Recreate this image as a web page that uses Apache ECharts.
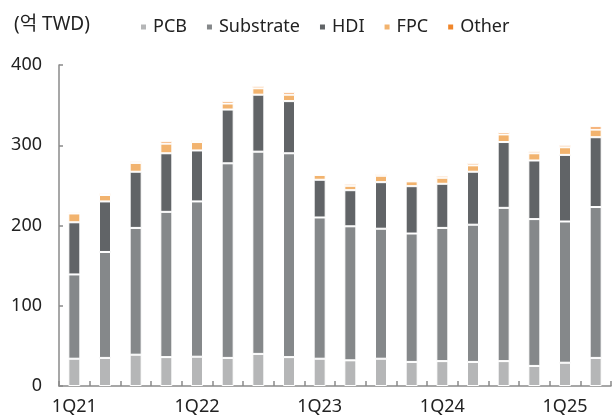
<!DOCTYPE html>
<html><head><meta charset="utf-8">
<script src="https://cdn.jsdelivr.net/npm/echarts@6/dist/echarts.min.js"></script>
<style>html,body{margin:0;padding:0;background:#fff}#c{width:616px;height:418px}</style>
</head><body><div id="c"></div>
<script>
const categories = ['1Q21','2Q21','3Q21','4Q21','1Q22','2Q22','3Q22','4Q22','1Q23','2Q23','3Q23','4Q23','1Q24','2Q24','3Q24','4Q24','1Q25','2Q25'];
const pcb       = [34, 35, 39, 36, 36.5, 35, 40, 36, 34, 32, 34, 30, 31, 30, 31, 25, 29, 35];
const substrate = [105, 132, 158, 181, 193.5, 242.5, 252, 254, 176, 167, 162, 160, 166, 171, 191, 183, 176, 188];
const hdi       = [65, 63, 70, 73, 63.5, 67, 71, 65, 47, 45, 58, 59, 55, 66, 82, 73, 83, 87];
const fpc       = [11, 8, 11, 12, 10.5, 7.5, 8, 8, 6, 5.5, 8, 6, 7.5, 8, 9.5, 9, 9.5, 9.5];
const other     = [1.5, 2, 2, 3, 2.5, 3, 3, 3, 1.5, 2.5, 2, 1.5, 2.5, 3, 3, 2.5, 3, 4];
const seriesNames = ['PCB','Substrate','HDI','FPC','Other'];
const seriesColors = ['#b5b6b7','#85888a','#616467','#f2b36e','#f0862a'];
const yTicks = [0, 100, 200, 300, 400];

const FONT = "'Noto Sans','Noto Sans CJK KR',sans-serif";
const chart = echarts.init(document.getElementById('c'), null, {renderer:'canvas'});
const dataSets = [pcb, substrate, hdi, fpc, other];
chart.setOption({
  animation: false,
  textStyle: {fontFamily: FONT},
  graphic: [{type:'text', x: 14, y: 25, style:{text:'(억 TWD)', fontSize: 19, fontFamily: FONT, fill:'#222', verticalAlign:'middle', textVerticalAlign:'middle'}}],
  legend: {
    top: 13, left: 134,
    itemWidth: 7, itemHeight: 7, itemGap: 18,
    icon: 'rect',
    textStyle: {fontSize: 18, color: '#222', fontFamily: FONT, padding:[0,0,0,1]},
    data: seriesNames
  },
  grid: {left: 59, right: 5, top: 65, bottom: 32, containLabel: false},
  xAxis: {
    type: 'category', data: categories,
    axisLine: {lineStyle: {color: '#8a8a8a', width: 1.5}},
    axisTick: {show: true, inside: true, length: 5, interval: 0, lineStyle:{color:'#8a8a8a', width: 1.5}},
    axisLabel: {interval: 3, fontSize: 18, color: '#222', margin: 12, fontFamily: FONT}
  },
  yAxis: {
    type: 'value', min: yTicks[0], max: yTicks[yTicks.length-1], interval: 100,
    axisLine: {show: true, lineStyle: {color: '#8a8a8a', width: 1.5}},
    axisTick: {show: true, inside: true, length: 4, lineStyle:{color:'#8a8a8a', width: 1.5}},
    splitLine: {show: false},
    axisLabel: {fontSize: 18, color: '#222', margin: 17, fontFamily: FONT}
  },
  series: seriesNames.map((n, i) => ({
    name: n, type: 'bar', stack: 'total', data: dataSets[i],
    barWidth: 12,
    itemStyle: {color: seriesColors[i], borderColor: '#fff', borderWidth: 1}
  }))
});
</script></body></html>
